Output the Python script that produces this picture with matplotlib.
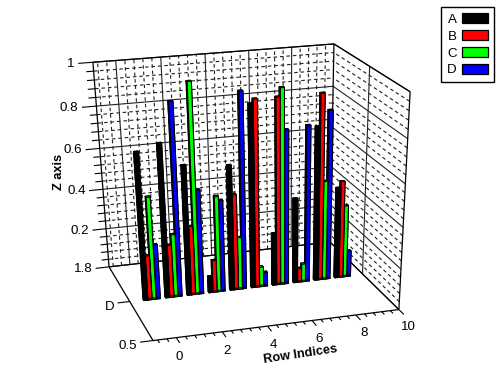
import numpy as np
import matplotlib
matplotlib.use("Agg")
import matplotlib.pyplot as plt
from matplotlib.patches import Patch
from mpl_toolkits.mplot3d import Axes3D
from mpl_toolkits.mplot3d.art3d import Line3DCollection

plt.rcParams['font.family'] = ['Liberation Sans', 'DejaVu Sans']

series_names = ['A', 'B', 'C', 'D']
series_colors = ['#000000', '#ff0000', '#00ff00', '#0000ff']
rows = list(range(10))
A = [.71, .74, .63, .08, .61, .88, .26, .42, .75, .45]
B = [.22, .26, .34, .16, .47, .90, .90, .07, .90, .48]
C = [.50, .31, 1.0, .47, .26, .10, .94, .09, .49, .36]
D = [.27, .92, .51, .45, .94, .07, .75, .76, .82, .13]
series = [A, B, C, D]
x_major = [0, 2, 4, 6, 8, 10]
x_labels = ['0', '2', '4', '6', '8', '10']
z_major = [0, .2, .4, .6, .8, 1]
z_labels = ['1.8', '0.2', '0.4', '0.6', '0.8', '1']
y_ticks = [0.5, 4]
y_labels = ['0.5', 'D']

X0, X1, Y0, Y1, Z0, Z1 = -1, 10, 0.5, 7.5, 0, 1

# Camera: fitted from where the box corners fall on the canvas
W, H = 496, 375
corners = [((-1, .5, 0), (153, 343)), ((10, .5, 0), (399, 307)),
           ((-1, 7.5, 0), (109, 264)), ((10, 7.5, 0), (330, 245)),
           ((-1, 7.5, 1), (93, 63)), ((10, 7.5, 1), (334, 43)),
           ((10, .5, 1), (410, 92))]
A_, b_ = [], []
for (x, y, z), (u, v) in corners:
    A_.append([x, y, z, 1, 0, 0, 0, 0, -u * x, -u * y, -u * z]); b_.append(u)
    A_.append([0, 0, 0, 0, x, y, z, 1, -v * x, -v * y, -v * z]); b_.append(v)
h = np.linalg.lstsq(np.array(A_, float), np.array(b_, float), rcond=None)[0]
P = np.array([h[:4], h[4:8], [*h[8:11], 1.0]])

fig = plt.figure(figsize=(W / 100, H / 100), dpi=100)
ax = fig.add_axes([0, 0, 1, 1], projection='3d', computed_zorder=False)
ax.apply_aspect = lambda *a, **k: None
ax.set_axis_off()


def get_proj():
    inv = ax.transData.inverted()
    p0 = inv.transform((0, H))
    p1 = inv.transform((W, 0))
    sx, sy = (p1[0] - p0[0]) / W, (p1[1] - p0[1]) / H
    r1 = sx * P[0] + p0[0] * P[2]
    r2 = sy * P[1] + p0[1] * P[2]
    depth = np.array([.05, .1, -.01, 1.0])
    return np.array([r1, r2, depth, P[2]])


ax.get_proj = get_proj


def label(x, y, z, s, **kw):
    """Place a text at a 3D position, as plain figure text."""
    u, v, w = P @ np.array([x, y, z, 1.0])
    fig.text(u / w / W, 1 - v / w / H, s, **kw)


def lines(segs, lw=0.8, ls='solid', color='#222222', zorder=1):
    ax.add_collection3d(Line3DCollection(segs, colors=color, linewidths=lw,
                                         linestyles=ls, zorder=zorder))


DASH = (0, (3.2, 2.6))
x_minor = [v for v in np.arange(0, 10.01, .4) if min(abs(v - m) for m in x_major) > 1e-6]
x_minor = [-.8, -.4] + x_minor
z_all = np.arange(0, 1.001, .04)
z_minor = [v for v in z_all if min(abs(v - m) for m in z_major) > 1e-6]

# back wall
lines([[(v, Y1, Z0), (v, Y1, Z1)] for v in x_minor], ls=DASH, zorder=.5)
lines([[(v, Y1, Z0), (v, Y1, Z1)] for v in x_major[:-1]])
lines([[(X0, Y1, v), (X1, Y1, v)] for v in z_minor], ls=DASH, zorder=.5)
lines([[(X0, Y1, v), (X1, Y1, v)] for v in z_major])
# right wall
lines([[(X1, Y0, v), (X1, Y1, v)] for v in z_minor], ls=DASH, zorder=.5)
lines([[(X1, Y0, v), (X1, Y1, v)] for v in z_major])
lines([[(X1, 4, Z0), (X1, 4, Z1)]])

# box outline
edges = [[(X0, Y1, Z1), (X1, Y1, Z1)], [(X0, Y1, Z0), (X0, Y1, Z1)],
         [(X1, Y1, Z0), (X1, Y1, Z1)], [(X1, Y0, Z1), (X1, Y1, Z1)],
         [(X1, Y0, Z0), (X1, Y0, Z1)], [(X1, Y0, Z0), (X1, Y1, Z0)],
         [(X0, Y0, Z0), (X0, Y1, Z0)], [(X0, Y0, Z0), (X1, Y0, Z0)],
         [(X0, Y1, Z0), (X1, Y1, Z0)]]
lines(edges, lw=0.9, color='black', zorder=1.2)

# ticks
lines([[(v, Y0, 0), (v, Y0 - .45, 0)] for v in x_major], color='black', zorder=1.2)
lines([[(v, Y0, 0), (v, Y0 - .25, 0)] for v in x_minor], color='black', zorder=1.2)
lines([[(X0, Y1, v), (X0 - .64, Y1, v)] for v in z_major], color='black', zorder=1.2)
lines([[(X0, Y1, v), (X0 - .32, Y1, v)] for v in z_minor], color='black', zorder=1.2)
lines([[(X0, v, 0), (X0 - .55, v, 0)] for v in y_ticks], color='black', zorder=1.2)

# tick labels
fs = 9.6
for v, s in zip(x_major, x_labels):
    label(v - .35, Y0 - 1.5, 0, s, ha='center', va='center', fontsize=fs)
for v, s in zip(z_major, z_labels):
    label(X0 - .8, Y1, v, s, ha='right', va='center', fontsize=fs)
for v, s in zip(y_ticks, y_labels):
    label(X0 - .75, v - .3, 0, s, ha='right', va='center', fontsize=fs)
label(4.4, -2.0, 0, 'Row Indices', ha='center', va='center', fontsize=9.2,
      fontweight='bold', rotation=8.5, rotation_mode='anchor')
fig.text(59 / W, 1 - 172 / H, 'Z axis', ha='center', va='center', fontsize=9.2,
         fontweight='bold', rotation=90)

# bars
bw, bd, step = .18, .13, .19
for i in rows:
    for k, vals in enumerate(series):
        ax.bar3d(i - 1.5 * step - bw / 2 + k * step, 4 - bd / 2, 0, bw, bd, vals[i],
                 color=series_colors[k], shade=False, edgecolor='black', linewidth=0.75,
                 zorder=10 + (len(rows) - i) * 10 + (4 - k))

ax.set_xlim(X0, X1); ax.set_ylim(Y0, Y1); ax.set_zlim(Z0, Z1)

handles = [Patch(facecolor=c, edgecolor='black', linewidth=.9) for c in series_colors]
fig.legend(handles, series_names, loc='upper left',
           bbox_to_anchor=(441 / W, 1 - 7 / H), borderaxespad=0, fontsize=fs,
           markerfirst=False, fancybox=False, edgecolor='black', framealpha=1,
           handlelength=1.95, handleheight=.83, labelspacing=.3, borderpad=.45,
           handletextpad=.42)
fig.savefig('out.png', dpi=100)
